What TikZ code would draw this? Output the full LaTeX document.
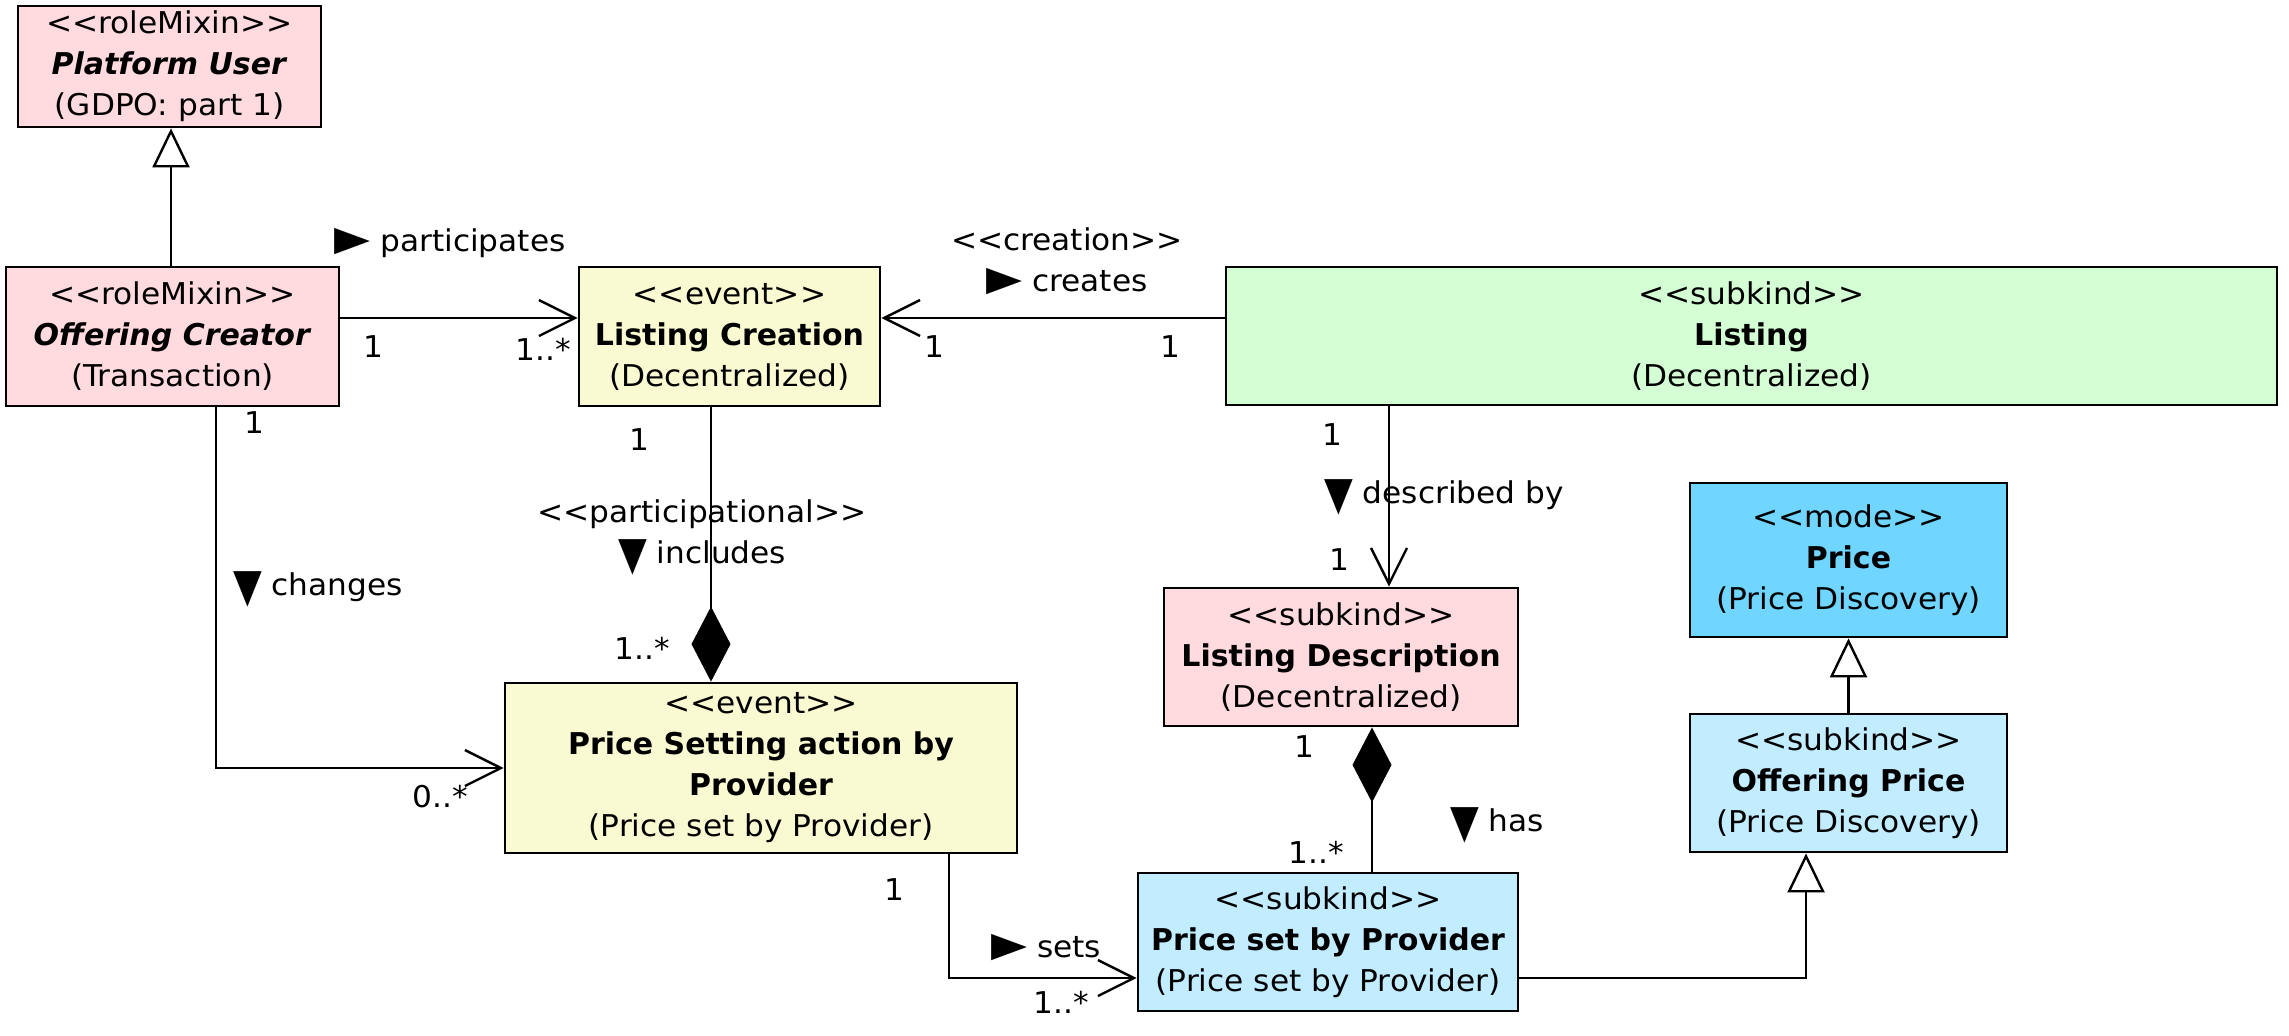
\documentclass[tikz,border=0pt]{standalone}
\usepackage{graphicx}
\usepackage{fontspec}
\setmainfont{DejaVu Sans}[UprightFeatures={FakeStretch=1.04}]
\usetikzlibrary{arrows.meta}
\definecolor{cpink}{RGB}{255,218,222}
\definecolor{cyellow}{RGB}{250,250,210}
\definecolor{cgreen}{RGB}{212,255,212}
\definecolor{cblue}{RGB}{112,214,255}
\definecolor{clblue}{RGB}{194,236,255}
\newcommand\stereo[1]{<\kern0pt<#1>\kern0pt>}
\newcommand\rtri{\raisebox{0.5pt}{\scalebox{1.5}[1.15]{▶}}}
\newcommand\dtri{\raisebox{-3pt}{\scalebox{1.2}[1.55]{▼}}}
\begin{document}
\begin{tikzpicture}[x=0.5pt,y=-0.5pt,font=\fontsize{15}{20.5}\selectfont,
  cls/.style={draw, line width=1.4pt, inner sep=0pt, align=center},
  con/.style={line width=1.2pt},
  assoc/.style={con, -{Straight Barb[length=18pt,width=18pt]}},
  gen/.style={con, -{Triangle[open,length=19.5pt,width=18.5pt]}},
  comp/.style={con, -{Diamond[length=37.5pt,width=19.5pt]}},
  lbl/.style={inner sep=0pt, align=center}]
\useasboundingbox (0,0) rectangle (2289,1035);

% classes
\node[cls, fill=cpink, minimum width=151.5pt, minimum height=60.5pt] (PU) at (169.5,66.5)
  {\stereo{roleMixin}\\\textbf{\textit{Platform User}}\\(GDPO: part 1)};
\node[cls, fill=cpink, minimum width=166.5pt, minimum height=69.5pt] (OC) at (172.5,336.5)
  {\stereo{roleMixin}\\\textbf{\textit{Offering Creator}}\\(Transaction)};
\node[cls, fill=cyellow, minimum width=150.5pt, minimum height=69.5pt] (LC) at (729.5,336.5)
  {\stereo{event}\\\textbf{Listing Creation}\\(Decentralized)};
\node[cls, fill=cgreen, minimum width=525.5pt, minimum height=69pt] (L) at (1751.5,336)
  {\stereo{subkind}\\\textbf{Listing}\\(Decentralized)};
\node[cls, fill=cyellow, minimum width=256pt, minimum height=85pt] (PS) at (761,768)
  {\stereo{event}\\\textbf{Price Setting action by}\\\textbf{Provider}\\(Price set by Provider)};
\node[cls, fill=cpink, minimum width=177pt, minimum height=69pt] (LD) at (1341,657)
  {\stereo{subkind}\\\textbf{Listing Description}\\(Decentralized)};
\node[cls, fill=cblue, minimum width=158.5pt, minimum height=77pt] (PR) at (1848.5,560)
  {\stereo{mode}\\\textbf{Price}\\(Price Discovery)};
\node[cls, fill=clblue, minimum width=158.5pt, minimum height=69pt] (OP) at (1848.5,783)
  {\stereo{subkind}\\\textbf{Offering Price}\\(Price Discovery)};
\node[cls, fill=clblue, minimum width=190pt, minimum height=69pt] (PP) at (1328,942)
  {\stereo{subkind}\\\textbf{Price set by Provider}\\(Price set by Provider)};

% helper coordinates
\coordinate (v171) at (171,0);
\coordinate (h318) at (0,318);
\coordinate (v711) at (711,0);
\coordinate (v216) at (216,0);
\coordinate (v1389) at (1389,0);
\coordinate (v1372) at (1372,0);
\coordinate (v949) at (949,0);
\coordinate (h978) at (0,978);
\coordinate (v1806) at (1806,0);

% connectors
\draw[gen] (OC.north -| v171) -- (PU.south -| v171);
\draw[assoc] (OC.east |- h318) -- (LC.west |- h318);
\draw[assoc] (L.west |- h318) -- (LC.east |- h318);
\draw[comp] (LC.south -| v711) -- (PS.north -| v711);
\draw[assoc] (OC.south -| v216) |- (PS.west);
\draw[assoc] (L.south -| v1389) -- (LD.north -| v1389);
\draw[comp] (PP.north -| v1372) -- (LD.south -| v1372);
\draw[assoc] (PS.south -| v949) |- (PP.west |- h978);
\draw[gen] (PP.east |- h978) -| (OP.south -| v1806);
\draw[gen] (OP.north) -- (PR.south);

% association labels
\node[lbl] (lpart) at (450,243) {\rtri\ participates};
\node[lbl] (lcreat) at (1067,261) {\stereo{creation}\\\rtri\ creates};
\node[lbl] (lincl) at (702,537) {\stereo{participational}\\\dtri\ includes};
\node[lbl] (lchg) at (318,589) {\dtri\ changes};
\node[lbl] (ldesc) at (1444,497) {\dtri\ described by};
\node[lbl] (lhas) at (1497,825) {\dtri\ has};
\node[lbl] (lsets) at (1046,948) {\rtri\ sets};

% multiplicities
\node[lbl] (m1) at (373,347) {1};
\node[lbl] (m2) at (543,349) {1..*};
\node[lbl] (m3) at (934,347) {1};
\node[lbl] (m4) at (1170,347) {1};
\node[lbl] (m5) at (254,423) {1};
\node[lbl] (m6) at (440,797) {0..*};
\node[lbl] (m7) at (639,440) {1};
\node[lbl] (m8) at (642,648) {1..*};
\node[lbl] (m9) at (1332,435) {1};
\node[lbl] (m10) at (1339,560) {1};
\node[lbl] (m11) at (1304,747) {1};
\node[lbl] (m12) at (1316,852) {1..*};
\node[lbl] (m13) at (894,890) {1};
\node[lbl] (m14) at (1061,1002) {1..*};
\end{tikzpicture}
\end{document}
